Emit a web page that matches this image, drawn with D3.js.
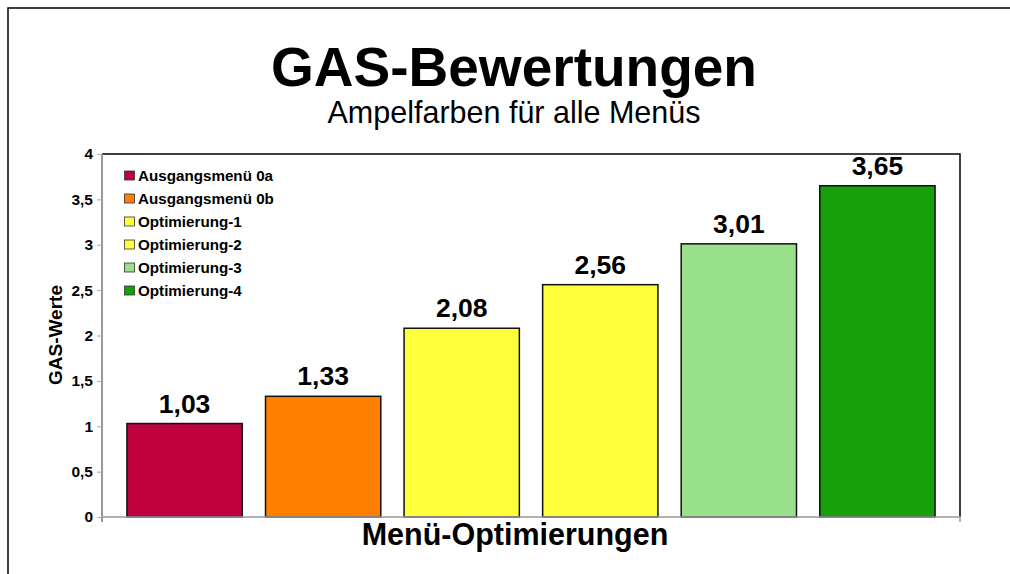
<!DOCTYPE html>
<html>
<head>
<meta charset="utf-8">
<script src="https://cdn.jsdelivr.net/npm/d3@7"></script>
<style>
  body { margin: 0; background: #fff; }
  text { font-family: "Liberation Sans", Arial, sans-serif; }
</style>
</head>
<body>
<div id="chart"></div>
<script>
// chart data
var categories = ["Ausgangsmenü 0a", "Ausgangsmenü 0b", "Optimierung-1", "Optimierung-2", "Optimierung-3", "Optimierung-4"];
var values = [1.03, 1.33, 2.08, 2.56, 3.01, 3.65];
var colors = ["#be003f", "#ff8000", "#ffff3c", "#ffff3c", "#98e08a", "#18a00b"];
var yTicks = [0, 0.5, 1, 1.5, 2, 2.5, 3, 3.5, 4];

var W = 1010, H = 574;
var plot = { left: 102, top: 154, right: 960, bottom: 517 };
var fmt = function(v) { return String(v).replace(".", ","); };

var svg = d3.select("#chart").append("svg")
  .attr("width", W)
  .attr("height", H);

// outer frame (only top/left visible)
svg.append("rect")
  .attr("x", 8).attr("y", 8)
  .attr("width", 1200).attr("height", 1000)
  .attr("fill", "none")
  .attr("stroke", "#000")
  .attr("stroke-width", 1.5);

var x = d3.scaleBand()
  .domain(categories)
  .range([plot.left, plot.right])
  .paddingInner(0.168)
  .paddingOuter(0.18);

var y = d3.scaleLinear()
  .domain([0, 4])
  .range([plot.bottom, plot.top]);

// titles
svg.append("text")
  .attr("x", 514).attr("y", 86)
  .attr("text-anchor", "middle")
  .style("font-size", "55px")
  .style("font-weight", "bold")
  .text("GAS-Bewertungen");

svg.append("text")
  .attr("x", 514).attr("y", 123)
  .attr("text-anchor", "middle")
  .style("font-size", "30.5px")
  .text("Ampelfarben für alle Menüs");

// plot frame top + right
svg.append("path")
  .attr("d", "M" + plot.left + "," + plot.top + "H" + plot.right + "V" + plot.bottom)
  .attr("fill", "none")
  .attr("stroke", "#000")
  .attr("stroke-width", 1.5);

// bars
svg.selectAll("rect.bar")
  .data(values)
  .enter().append("rect")
  .attr("class", "bar")
  .attr("x", function(d, i) { return x(categories[i]); })
  .attr("y", function(d) { return y(d); })
  .attr("width", x.bandwidth())
  .attr("height", function(d) { return y(0) - y(d); })
  .attr("fill", function(d, i) { return colors[i]; })
  .attr("stroke", "#111")
  .attr("stroke-width", 1.5);

// value labels
svg.selectAll("text.val")
  .data(values)
  .enter().append("text")
  .attr("class", "val")
  .attr("x", function(d, i) { return x(categories[i]) + x.bandwidth() / 2; })
  .attr("y", function(d) { return y(d) - 11; })
  .attr("text-anchor", "middle")
  .style("font-size", "26.5px")
  .style("font-weight", "bold")
  .text(fmt);

// y axis
var yAxis = svg.append("g")
  .attr("transform", "translate(" + plot.left + ",0)")
  .call(d3.axisLeft(y).tickValues(yTicks).tickFormat(fmt).tickSize(5).tickPadding(4));
yAxis.select(".domain").attr("stroke", "#999").attr("stroke-width", 2)
  .attr("d", "M0," + plot.top + "V" + (plot.bottom + 5));
yAxis.selectAll(".tick line").attr("stroke", "#aaa");
yAxis.selectAll(".tick text")
  .style("font-size", "15.5px")
  .style("font-weight", "bold")
  .style("font-family", "'Liberation Sans', Arial, sans-serif")
  .attr("fill", "#000");

// x axis line (gray) with end ticks
svg.append("path")
  .attr("d", "M" + plot.left + "," + plot.bottom + "H" + plot.right + "V" + (plot.bottom + 5))
  .attr("fill", "none")
  .attr("stroke", "#999")
  .attr("stroke-width", 1.5);

// axis titles
svg.append("text")
  .attr("x", 515).attr("y", 545)
  .attr("text-anchor", "middle")
  .style("font-size", "30.5px")
  .style("font-weight", "bold")
  .text("Menü-Optimierungen");

svg.append("text")
  .attr("transform", "translate(62,335) rotate(-90)")
  .attr("text-anchor", "middle")
  .style("font-size", "19px")
  .style("font-weight", "bold")
  .text("GAS-Werte");

// legend
var legend = svg.append("g")
  .attr("transform", "translate(124.5,171)");
var item = legend.selectAll("g")
  .data(categories)
  .enter().append("g")
  .attr("transform", function(d, i) { return "translate(0," + (i * 23) + ")"; });
item.append("rect")
  .attr("width", 10).attr("height", 9)
  .attr("fill", function(d, i) { return colors[i]; })
  .attr("stroke", "#333")
  .attr("stroke-width", 0.8);
item.append("text")
  .attr("x", 13.5).attr("y", 9.5)
  .style("font-size", "15.2px")
  .style("font-weight", "bold")
  .text(function(d) { return d; });
</script>
</body>
</html>
